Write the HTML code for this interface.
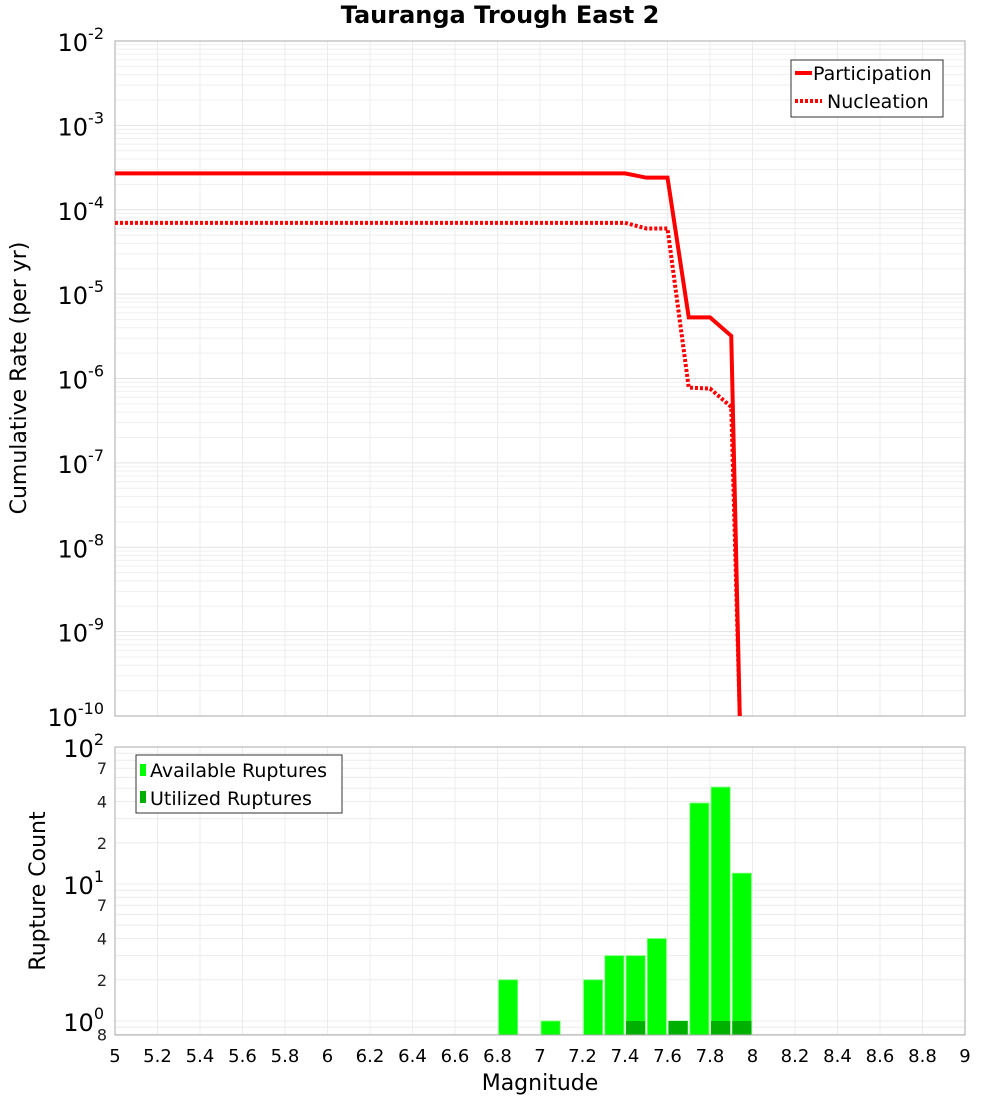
<!DOCTYPE html>
<html><head><meta charset="utf-8"><style>
body{margin:0;background:#fff;font-family:"Liberation Sans","DejaVu Sans",sans-serif}
svg text{font-family:"DejaVu Sans","Liberation Sans",sans-serif}
</style></head><body>
<svg id="c" width="1000" height="1100" xmlns="http://www.w3.org/2000/svg"></svg>
<script>
const partX=[5.0,7.4,7.5,7.6,7.7,7.8,7.9,7.94];
const partY=[2.7e-4,2.7e-4,2.4e-4,2.4e-4,5.3e-6,5.3e-6,3.2e-6,1e-10];
const nuclX=[5.0,7.4,7.5,7.6,7.7,7.8,7.9,7.94];
const nuclY=[7e-5,7e-5,6e-5,6e-5,7.8e-7,7.6e-7,4.6e-7,1e-10];
const binMags=[6.85,7.05,7.25,7.35,7.45,7.55,7.65,7.75,7.85,7.95];
const availCounts=[2,1,2,3,3,4,1,39,51,12];
const usedMags=[7.45,7.65,7.85,7.95];
const usedCounts=[1,1,1,1];
const xTicks=[5,5.2,5.4,5.6,5.8,6,6.2,6.4,6.6,6.8,7,7.2,7.4,7.6,7.8,8,8.2,8.4,8.6,8.8,9];
const topExps=[-2,-3,-4,-5,-6,-7,-8,-9,-10];

const svg=document.getElementById('c');const NS='http://www.w3.org/2000/svg';
function el(t,a,p){const e=document.createElementNS(NS,t);for(const k in a)e.setAttribute(k,a[k]);(p||svg).appendChild(e);return e;}
const L=115,R=965,T1=41,B1=716,T2=747,B2=1035;
const xs=m=>L+(m-5)/(9-5)*(R-L);
const y1=v=>T1+(-2-Math.log10(v))/8*(B1-T1);
const y2=v=>1021-Math.log10(v)*137;

let t=el('text',{x:500,y:23,'text-anchor':'middle','font-size':24,'font-weight':'bold'});t.textContent='Tauranga Trough East 2';


let g=el('g',{});
el('rect',{x:L,y:T1,width:R-L,height:B1-T1,fill:'#fff'},g);
for(let e=-10;e<-2;e++)for(let k=1;k<10;k++){const y=y1(k*Math.pow(10,e));el('line',{x1:L,x2:R,y1:y,y2:y,stroke:k==1?'#e2e2e2':'#efefef','stroke-width':1},g);}
for(let m=5;m<=9.001;m+=0.2){el('line',{x1:xs(m),x2:xs(m),y1:T1,y2:B1,stroke:'#ececec'},g);}
el('rect',{x:L,y:T1,width:R-L,height:B1-T1,fill:'none',stroke:'#aaa'},g);
topExps.forEach(e=>{const y=y1(Math.pow(10,e));let tx=el('text',{x:104,y:y+10,'text-anchor':'end','font-size':24},g);tx.innerHTML='10<tspan dy="-12" font-size="16">'+e+'</tspan>';});
t=el('text',{x:0,y:0,transform:'translate(26,378) rotate(-90)','text-anchor':'middle','font-size':22});t.textContent='Cumulative Rate (per yr)';
const cp=el('clipPath',{id:'cp1'});el('rect',{x:L,y:T1,width:R-L,height:B1-T1},cp);
let p=el('polyline',{points:partX.map((x,i)=>xs(x)+','+y1(partY[i])).join(' '),fill:'none',stroke:'#f00','stroke-width':4,'clip-path':'url(#cp1)'},g);
p=el('polyline',{points:nuclX.map((x,i)=>xs(x)+','+y1(nuclY[i])).join(' '),fill:'none',stroke:'#f00','stroke-width':4,'stroke-dasharray':'3,2','clip-path':'url(#cp1)'},g);
let lg=el('g',{},g);
el('rect',{x:791,y:60,width:152,height:57,fill:'#fff',stroke:'#333'},lg);
el('line',{x1:795,x2:812,y1:73,y2:73,stroke:'#f00','stroke-width':4},lg);
el('line',{x1:795,x2:822,y1:101,y2:101,stroke:'#f00','stroke-width':4,'stroke-dasharray':'3,2'},lg);
t=el('text',{x:813,y:80,'font-size':19},lg);t.textContent='Participation';
t=el('text',{x:827,y:108,'font-size':19},lg);t.textContent='Nucleation';

let g2=el('g',{});
for(let e=-1;e<2;e++)for(let k=1;k<10;k++){const v=k*Math.pow(10,e);const y=y2(v);if(y<T2||y>B2)continue;el('line',{x1:L,x2:R,y1:y,y2:y,stroke:'#ececec'},g2);}
el('line',{x1:L,x2:R,y1:y2(100),y2:y2(100),stroke:'#ececec'},g2);
for(let m=5;m<=9.001;m+=0.2){el('line',{x1:xs(m),x2:xs(m),y1:T2,y2:B2,stroke:'#ececec'},g2);}
binMags.forEach((m,i)=>{let r=el('rect',{x:xs(m-0.045),y:y2(availCounts[i]),width:xs(0.09)-xs(0),height:B2-y2(availCounts[i]),fill:'#00ff00',stroke:'#7fff7f','stroke-width':0.8},g2);});
usedMags.forEach((m,i)=>{let r=el('rect',{x:xs(m-0.045),y:y2(usedCounts[i]),width:xs(0.09)-xs(0),height:B2-y2(usedCounts[i]),fill:'#00b000'},g2);});
el('rect',{x:L,y:T2,width:R-L,height:B2-T2,fill:'none',stroke:'#aaa'},g2);
[[100,'2'],[10,'1'],[1,'0']].forEach(([v,e])=>{const y=y2(v);let tx=el('text',{x:104,y:y+10,'text-anchor':'end','font-size':24},g2);tx.innerHTML='10<tspan dy="-12" font-size="16">'+e+'</tspan>';});
[[70,'7'],[40,'4'],[20,'2'],[7,'7'],[4,'4'],[2,'2'],[0.8,'8']].forEach(([v,s])=>{let tx=el('text',{x:107,y:y2(v)+6,'text-anchor':'end','font-size':16,fill:'#222'},g2);tx.textContent=s;});
t=el('text',{x:0,y:0,transform:'translate(45,891) rotate(-90)','text-anchor':'middle','font-size':22});t.textContent='Rupture Count';
let lg2=el('g',{},g2);
el('rect',{x:136,y:755,width:206,height:58,fill:'#fff',stroke:'#333'},lg2);
el('rect',{x:140,y:764,width:6,height:12,fill:'#00ff00'},lg2);
el('rect',{x:140,y:791,width:6,height:12,fill:'#00b000'},lg2);
t=el('text',{x:150,y:777,'font-size':19},lg2);t.textContent='Available Ruptures';
t=el('text',{x:150,y:805,'font-size':19},lg2);t.textContent='Utilized Ruptures';
xTicks.forEach(m=>{let tx=el('text',{x:xs(m),y:1062,'text-anchor':'middle','font-size':18});tx.textContent=String(m);});
t=el('text',{x:540,y:1090,'text-anchor':'middle','font-size':22});t.textContent='Magnitude';
</script>
</body></html>
